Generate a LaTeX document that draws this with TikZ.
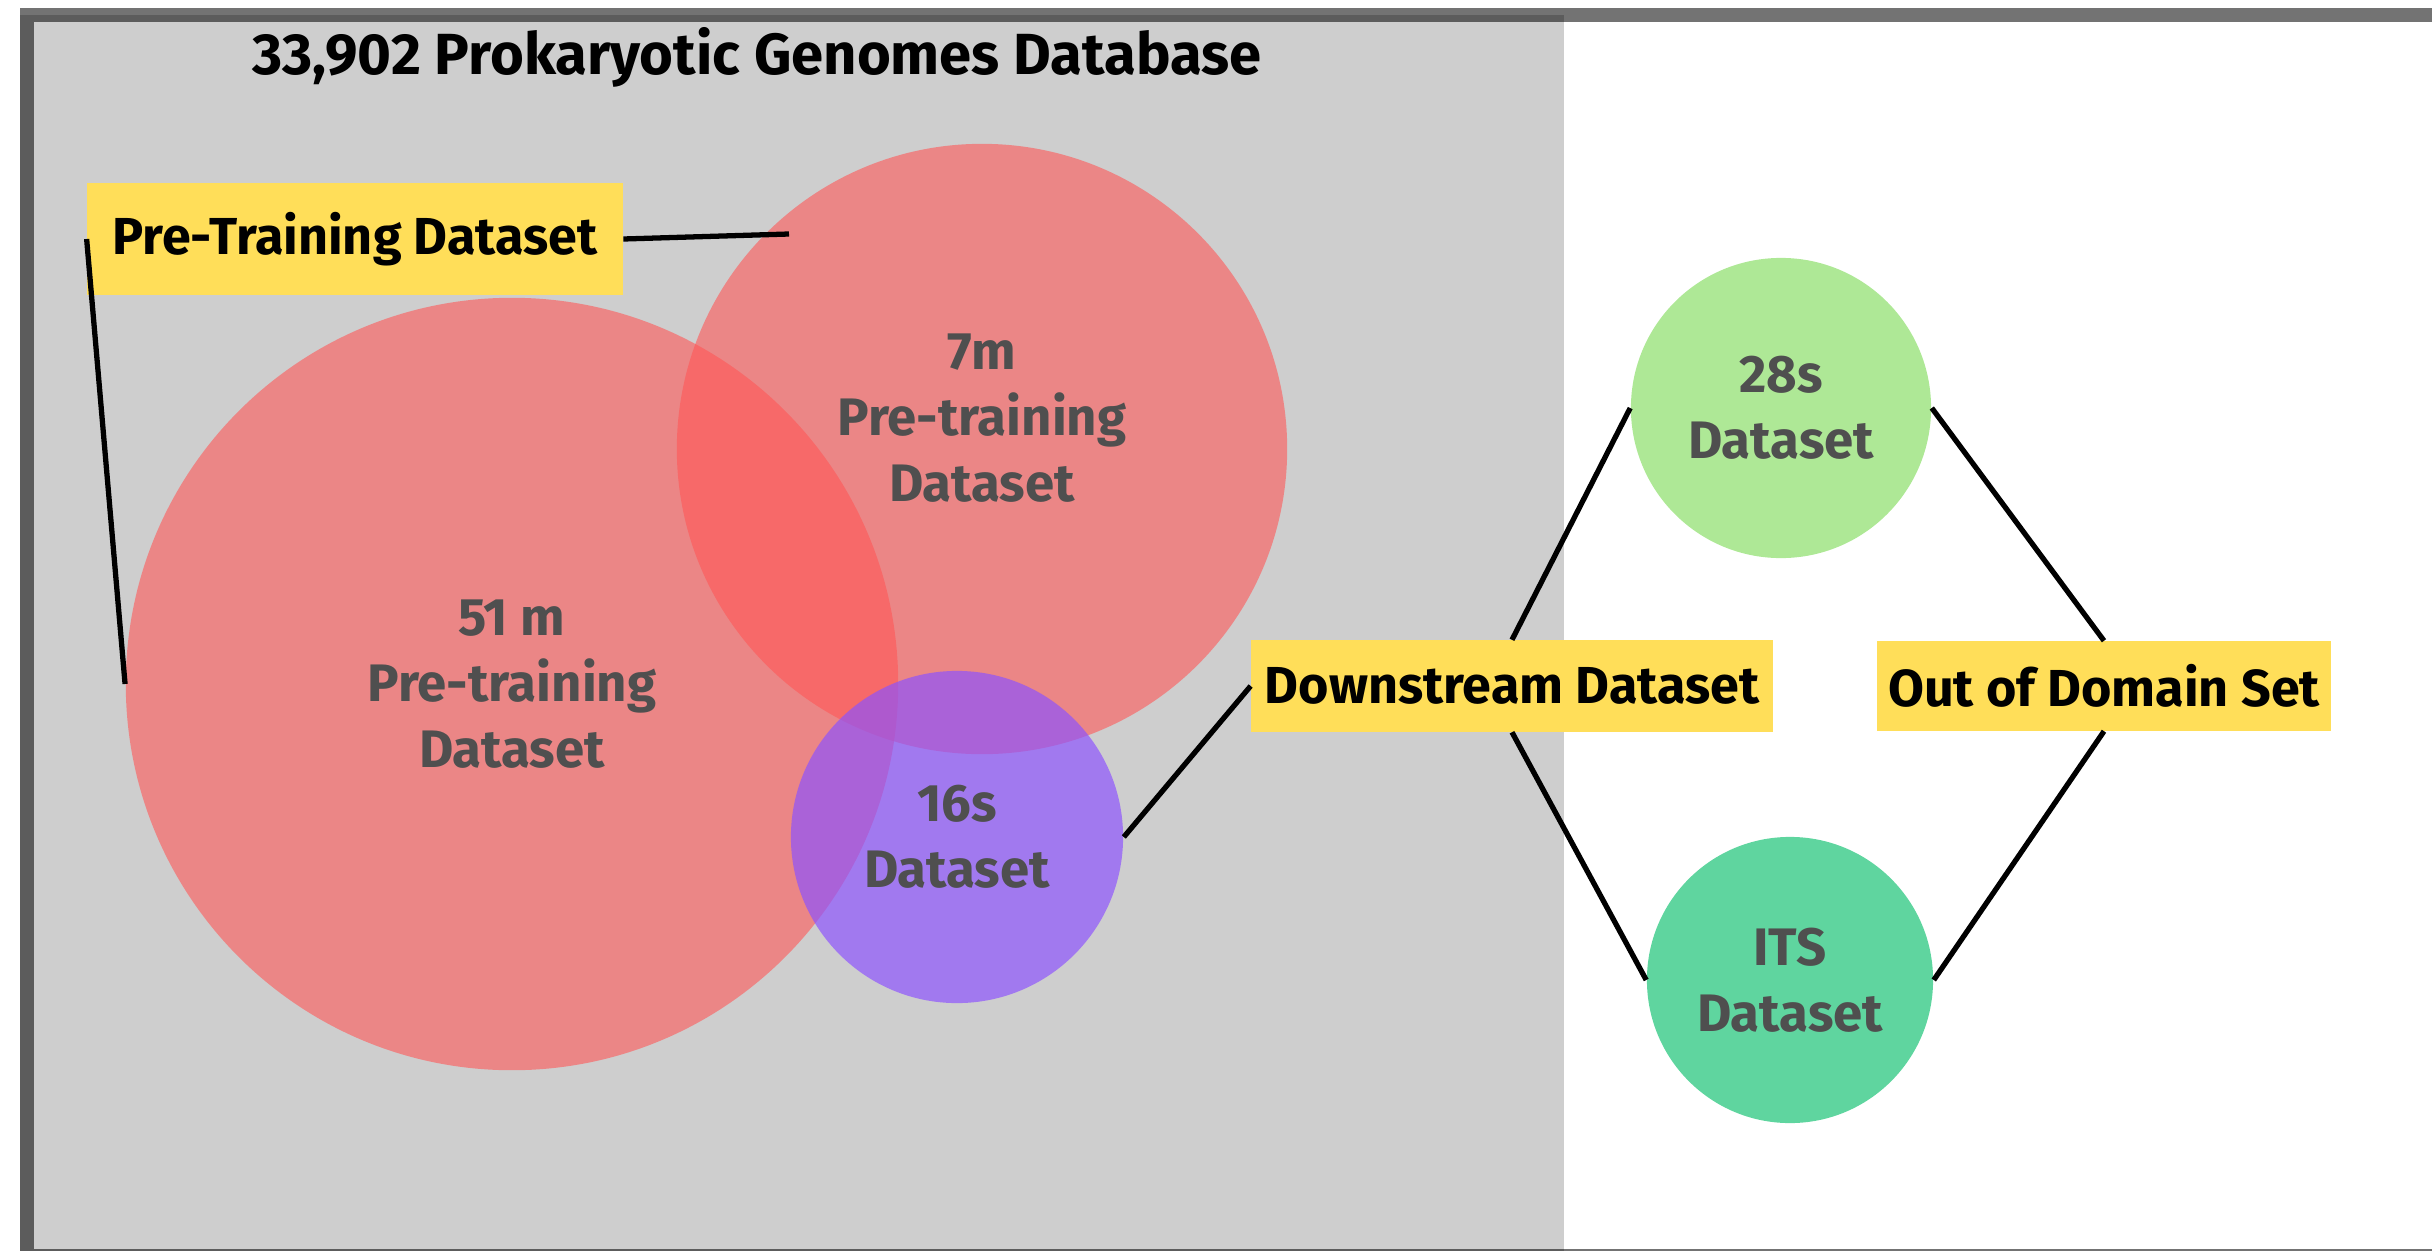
\documentclass[tikz,border=0pt]{standalone}
\usepackage{fontspec}
\setmainfont{Fira Sans}
\usepackage{xcolor}
\usepackage{tikz}
\definecolor{dbgrey}{HTML}{CECECE}
\definecolor{pretrainred}{HTML}{FF5757}
\definecolor{sixteenpurple}{HTML}{8C52FF}
\definecolor{lightgreen}{HTML}{AEE896}
\definecolor{itsgreen}{HTML}{5FD59F}
\definecolor{tagyellow}{HTML}{FFDE59}
\definecolor{setgrey}{HTML}{4F4F4F}

\begin{document}
\begin{tikzpicture}[x=0.01cm, y=-0.01cm,
    setcircle/.style={circle, inner sep=0pt, align=center, text=setgrey, text opacity=1,
        font=\bfseries\fontsize{15}{18.7}\selectfont},
    tag/.style={fill=tagyellow, inner sep=0pt, font=\bfseries\fontsize{14.8}{18}\selectfont},
    link/.style={line width=1.5pt}]
    \useasboundingbox (0,0) rectangle (2432,1251);
    % database area and frame
    \fill[dbgrey] (20,15) rectangle (1564,1260);
    \draw[draw opacity=0.55, line width=3.7pt] (27,15) rectangle (2460,1255);
    \node[font=\bfseries\fontsize{16.5}{20}\selectfont] (title) at (757,57) {33,902 Prokaryotic Genomes Database};
    % sets
    \node[setcircle, fill=pretrainred, fill opacity=0.6, minimum size=7.72cm] (c51) at (512,684) {51 m\\Pre-training\\Dataset};
    \node[setcircle, fill=pretrainred, fill opacity=0.6, minimum size=6.1cm] (c7) at (982,449) {};
    \node[setcircle] (t7) at ([yshift=0.31cm]c7.center) {7m\\Pre-training\\Dataset};
    \node[setcircle, fill=sixteenpurple, fill opacity=0.68, minimum size=3.32cm] (c16) at (957,837) {16s\\Dataset};
    \node[setcircle, fill=lightgreen, minimum size=3cm] (c28) at (1781,408) {28s\\Dataset};
    \node[setcircle, fill=itsgreen, minimum size=2.86cm] (cits) at (1790,980) {ITS\\Dataset};
    % tags
    \node[tag, minimum width=5.35cm, minimum height=1.12cm] (ptd) at (355,239) {Pre-Training Dataset};
    \node[tag, minimum width=5.21cm, minimum height=0.91cm] (ds) at (1512,686) {Downstream Dataset};
    \node[tag, minimum width=4.53cm, minimum height=0.89cm] (ood) at (2104,686) {Out of Domain Set};
    \coordinate (ptdend) at (789,234);
    \draw[link] (ptd.east) -- (ptdend);
    \draw[link] (ptd.west) -- (c51.west);
    \draw[link] (c16.east) -- (ds.west);
    \draw[link] (ds.north) -- (c28.west);
    \draw[link] (ds.south) -- (cits.west);
    \draw[link] (c28.east) -- (ood.north);
    \draw[link] (ood.south) -- (cits.east);
\end{tikzpicture}
\end{document}
